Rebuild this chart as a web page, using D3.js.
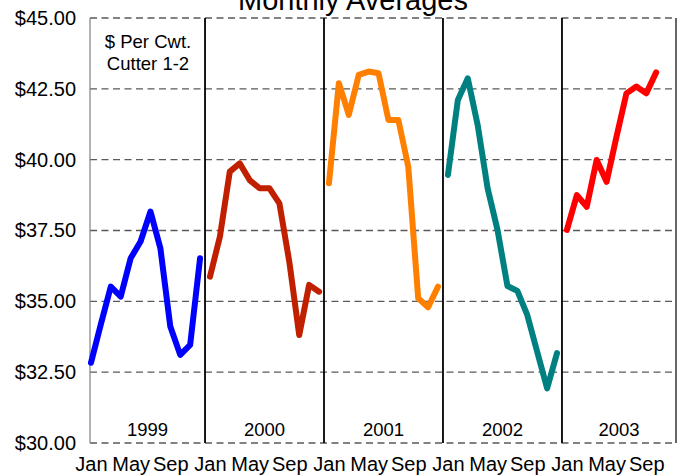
<!DOCTYPE html>
<html>
<head>
<meta charset="utf-8">
<script src="https://cdn.jsdelivr.net/npm/d3@7"></script>
<style>
  html, body { margin: 0; padding: 0; background: #fff; }
  svg { display: block; font-family: "Liberation Sans", Arial, sans-serif; }
</style>
</head>
<body>
<svg id="chart" width="688" height="475"></svg>
<script>
// ---- Data ----
const years = ["1999", "2000", "2001", "2002", "2003"];
const months = ["Jan","Feb","Mar","Apr","May","Jun","Jul","Aug","Sep","Oct","Nov","Dec"];
const tickMonths = ["Jan", "May", "Sep"];
const yTicks = [30, 32.5, 35, 37.5, 40, 42.5, 45];
const v1999 = [32.83, 34.20, 35.52, 35.17, 36.52, 37.11, 38.17, 36.87, 34.11, 33.11, 33.46, 36.52];
const v2000 = [35.87, 37.28, 39.58, 39.87, 39.28, 38.99, 38.99, 38.46, 36.40, 33.81, 35.58, 35.34];
const v2001 = [39.17, 42.70, 41.58, 42.99, 43.11, 43.05, 41.40, 41.40, 39.75, 35.11, 34.79, 35.52];
const v2002 = [39.46, 42.11, 42.87, 41.22, 38.99, 37.52, 35.54, 35.37, 34.52, 33.22, 31.93, 33.17];
const v2003 = [37.52, 38.75, 38.34, 39.99, 39.22, 40.81, 42.34, 42.58, 42.34, 43.08];
const seriesValues = [v1999, v2000, v2001, v2002, v2003];
const seriesColors = ["#0000FF", "#C02000", "#FF8000", "#008080", "#FF0000"];
const title = "Monthly Averages";
const noteLines = ["$ Per Cwt.", "Cutter 1-2"];

// ---- Layout ----
const svg = d3.select("#chart");
const pLeft = 90, pRight = 676, pTop = 18, pBottom = 443;

const x = d3.scaleLinear().domain([-0.1, 59.0]).range([pLeft, pRight]);
const y = d3.scaleLinear().domain([30, 45]).range([pBottom, pTop]);

// gridlines (dashed)
svg.append("g")
  .selectAll("line")
  .data(yTicks)
  .join("line")
  .attr("x1", pLeft).attr("x2", pRight)
  .attr("y1", d => y(d)).attr("y2", d => y(d))
  .attr("stroke", "#5a5a5a")
  .attr("stroke-width", 1.4)
  .attr("stroke-dasharray", "7,4.5");

// left border
svg.append("line")
  .attr("x1", pLeft).attr("x2", pLeft)
  .attr("y1", pTop).attr("y2", pBottom)
  .attr("stroke", "#808080").attr("stroke-width", 1.2);

// year separators + right border
const sepIdx = d3.range(1, years.length).map(k => k * 12 - 0.5);
svg.append("g")
  .selectAll("line")
  .data(sepIdx)
  .join("line")
  .attr("x1", d => x(d)).attr("x2", d => x(d))
  .attr("y1", pTop).attr("y2", pBottom)
  .attr("stroke", "#000").attr("stroke-width", 1.8);
svg.append("line")
  .attr("x1", pRight).attr("x2", pRight)
  .attr("y1", pTop).attr("y2", pBottom)
  .attr("stroke", "#000").attr("stroke-width", 1.2);

// y axis labels
const yAxis = d3.axisLeft(y)
  .tickValues(yTicks)
  .tickFormat(d3.format("$,.2f"))
  .tickSize(0)
  .tickPadding(14);
const gy = svg.append("g").attr("transform", `translate(${pLeft},0)`).call(yAxis);
gy.select(".domain").remove();
gy.selectAll("text")
  .attr("font-family", "'Liberation Sans', Arial, sans-serif")
  .attr("font-size", 20)
  .attr("fill", "#000");

// x axis labels
const xTickVals = [];
const xTickText = {};
years.forEach((yr, k) => {
  tickMonths.forEach(m => {
    const idx = k * 12 + months.indexOf(m);
    xTickVals.push(idx);
    xTickText[idx] = m;
  });
});
const xAxis = d3.axisBottom(x)
  .tickValues(xTickVals)
  .tickFormat(d => xTickText[d])
  .tickSize(0)
  .tickPadding(14);
const gx = svg.append("g").attr("transform", `translate(0,${pBottom})`).call(xAxis);
gx.select(".domain").remove();
gx.selectAll("text")
  .attr("font-family", "'Liberation Sans', Arial, sans-serif")
  .attr("font-size", 20)
  .attr("fill", "#000");

// year labels in panels
svg.append("g")
  .selectAll("text")
  .data(years)
  .join("text")
  .attr("x", (d, k) => {
    const a = k === 0 ? pLeft : x(k * 12 - 0.5);
    const b = k === years.length - 1 ? pRight : x((k + 1) * 12 - 0.5);
    return (a + b) / 2;
  })
  .attr("y", 436)
  .attr("text-anchor", "middle")
  .attr("font-size", 18.5)
  .attr("fill", "#000")
  .text(d => d);

// series lines
const line = d3.line()
  .x(d => x(d.i))
  .y(d => y(d.v));
seriesValues.forEach((vals, k) => {
  const pts = vals.map((v, m) => ({ i: k * 12 + m, v }));
  svg.append("path")
    .datum(pts)
    .attr("d", line)
    .attr("fill", "none")
    .attr("stroke", seriesColors[k])
    .attr("stroke-width", 6)
    .attr("stroke-linejoin", "round")
    .attr("stroke-linecap", "round");
});

// note
svg.append("g")
  .selectAll("text")
  .data(noteLines)
  .join("text")
  .attr("x", 148)
  .attr("y", (d, i) => 48 + i * 22)
  .attr("text-anchor", "middle")
  .attr("font-size", 18.5)
  .attr("fill", "#000")
  .text(d => d);

// title
svg.append("text")
  .attr("x", 353)
  .attr("y", 10)
  .attr("text-anchor", "middle")
  .attr("font-size", 29)
  .attr("fill", "#000")
  .text(title);
</script>
</body>
</html>
